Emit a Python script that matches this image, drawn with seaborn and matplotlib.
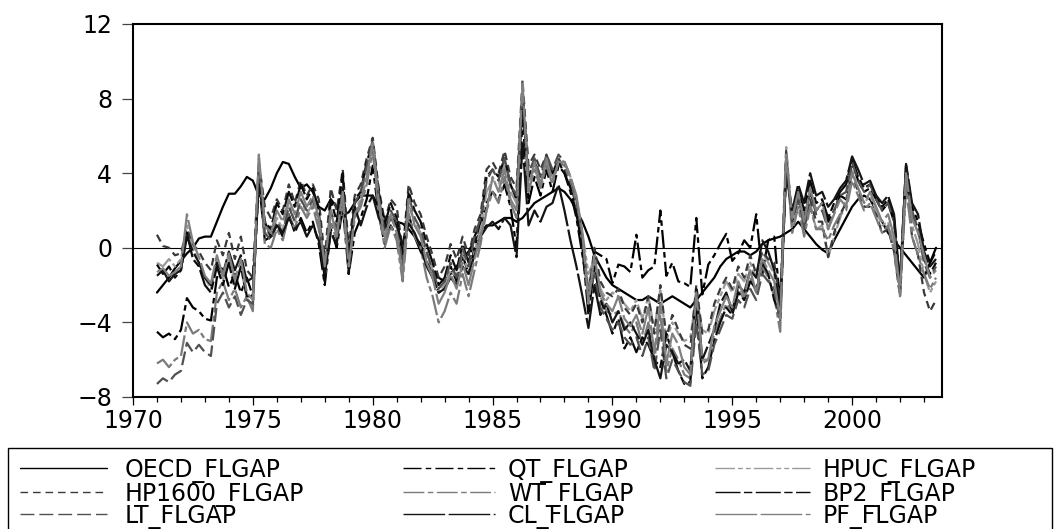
import matplotlib
matplotlib.use("Agg")
import matplotlib.pyplot as plt
from matplotlib.lines import Line2D
from matplotlib.patches import Rectangle
from matplotlib.ticker import MultipleLocator
import numpy as np
import pandas as pd
import seaborn as sns

# quarterly output gaps, 1971Q1 - 2003Q3
oecd = [
    -2.4, -2.0, -1.6, -1.1,  # 1971
    -0.7, -0.3, 0.0, 0.5,
    0.6, 0.6, 1.4, 2.2,
    2.9, 2.9, 3.3, 3.8,
    3.6, 2.8, 2.6, 3.2,  # 1975
    4.0, 4.6, 4.5, 3.8,
    3.2, 3.4, 3.0, 2.2,
    2.0, 2.6, 2.2, 1.8,
    1.9, 2.4, 2.8, 2.8,
    2.8, 2.2, 1.6, 1.6,  # 1980
    1.4, 1.3, 1.0, 0.6,
    -0.2, -0.8, -1.2, -1.6,
    -1.8, -1.4, -1.0, -0.6,
    -0.2, 0.4, 0.8, 1.2,
    1.2, 1.4, 1.6, 1.6,  # 1985
    1.4, 1.6, 2.0, 2.4,
    2.6, 2.8, 3.0, 3.2,
    3.0, 2.6, 2.0, 1.4,
    0.6, -0.4, -1.0, -1.6,
    -2.0, -2.2, -2.4, -2.6,  # 1990
    -2.8, -2.8, -2.6, -2.8,
    -3.0, -2.8, -2.6, -2.8,
    -3.0, -3.2, -2.8, -2.4,
    -2.0, -1.6, -1.0, -0.6,
    -0.4, -0.2, -0.2, -0.4,  # 1995
    -0.2, 0.2, 0.4, 0.5,
    0.6, 0.8, 1.0, 1.4,
    1.0, 0.6, 0.2, -0.1,
    -0.3, 0.4, 1.0, 1.6,
    2.2, 2.6, 2.8, 2.6,  # 2000
    2.0, 1.4, 0.8, 0.4,
    0.0, -0.4, -0.8, -1.2,
    -1.6, -0.8, 0.0,
]
qt = [
    -4.5, -4.8, -4.6, -4.9,  # 1971
    -4.4, -2.7, -3.2, -3.4,
    -3.8, -3.9, -1.6, -1.0,
    -2.1, -1.4, -2.4, -1.6,
    -2.6, 3.6, 0.4, 0.6,  # 1975
    1.2, 0.6, 1.8, 0.8,
    1.6, 0.8, 1.4, 0.2,
    -2.0, 1.0, 0.0, 2.2,
    -1.4, 0.8, 1.6, 2.6,
    4.4, 1.8, 0.2, 1.2,  # 1980
    0.6, -0.8, 1.8, 0.6,
    0.2, -0.8, -1.6, -2.4,
    -2.2, -1.0, -1.8, -0.4,
    -1.4, 0.0, 1.2, 2.4,
    3.0, 2.6, 3.4, 2.2,  # 1985
    0.0, 7.0, 2.4, 3.8,
    2.8, 4.2, 3.0, 4.4,
    4.0, 3.0, 1.6, -0.4,
    -2.4, -0.2, -0.4, -0.6,
    -1.9, -0.9, -1.0, -1.3,  # 1990
    0.7, -1.6, -1.2, -1.0,
    2.0, -1.5, -0.8, -1.8,
    -1.9, -2.1, 1.6, -2.5,
    -0.9, -0.4, 0.2, 0.75,
    -0.7, -0.3, 0.4, 0.0,  # 1995
    1.8, -1.4, 0.4, 0.6,
    -3.0, 4.4, 1.6, 2.6,
    1.6, 3.0, 2.0, 2.4,
    1.4, 2.0, 2.8, 2.6,
    4.6, 3.6, 3.0, 3.2,  # 2000
    2.6, 2.0, 2.4, 1.4,
    -1.8, 4.4, 2.2, 1.4,
    0.2, -0.8, -0.2,
]
hpuc = [
    -0.8, -1.0, -0.6, -1.0,  # 1971
    -0.6, 1.2, 0.0, -0.8,
    -1.6, -2.2, -0.6, -1.8,
    -0.6, -2.0, -1.0, -2.8,
    -3.2, 4.8, 1.0, 0.6,  # 1975
    1.6, 1.0, 2.4, 1.4,
    2.6, 1.8, 2.4, 1.2,
    -1.4, 1.8, 0.8, 2.8,
    -1.0, 2.0, 2.6, 4.2,
    5.4, 2.4, 0.6, 1.6,  # 1980
    1.0, -1.4, 2.2, 1.4,
    0.8, -0.4, -1.2, -2.4,
    -2.0, -1.2, -1.6, -0.2,
    -1.4, -0.2, 1.0, 3.0,
    3.6, 3.4, 4.4, 3.0,  # 1985
    2.4, 8.4, 3.6, 4.2,
    3.4, 4.6, 3.8, 4.8,
    4.6, 3.8, 2.6, 0.8,
    -1.4, -0.6, -2.2, -2.8,
    -2.4, -2.6, -3.0, -3.4,  # 1990
    -2.8, -3.8, -2.6, -4.4,
    -2.2, -5.0, -4.0, -4.6,
    -5.0, -4.8, -2.6, -4.4,
    -4.6, -3.4, -2.6, -1.8,
    -2.4, -1.4, -1.8, -0.8,  # 1995
    -1.6, -0.2, -0.8, -1.4,
    -3.4, 5.4, 1.2, 2.8,
    0.8, 2.4, 1.0, 1.2,
    -0.5, 0.6, 1.6, 2.6,
    4.2, 3.2, 2.4, 2.8,  # 2000
    2.0, 1.2, 1.4, 0.2,
    -2.2, 3.8, 1.2, 0.2,
    -1.4, -2.4, -1.8,
]
hp1600 = [
    0.7, 0.1, 0.0, -0.4,  # 1971
    -0.3, 1.0, 0.2, -0.2,
    -0.8, -1.2, 0.4, -0.4,
    0.8, -0.6, 0.6, -1.2,
    -1.6, 4.6, 2.2, 1.6,  # 1975
    2.6, 2.0, 3.4, 2.4,
    3.6, 2.8, 3.4, 2.6,
    -0.6, 3.2, 2.0, 4.2,
    0.0, 2.8, 3.4, 4.8,
    5.9, 3.2, 1.4, 2.6,  # 1980
    2.2, -0.2, 3.4, 2.4,
    1.8, 0.6, -0.4, -1.6,
    -1.0, 0.2, -0.6, 0.6,
    -0.4, 1.0, 1.8, 4.2,
    4.6, 4.0, 5.2, 3.8,  # 1985
    3.2, 9.0, 4.4, 5.0,
    4.2, 5.0, 4.0, 4.8,
    4.2, 3.4, 2.2, 0.4,
    -2.6, 0.0, -1.8, -2.4,
    -2.6, -2.2, -3.2, -3.6,  # 1990
    -3.0, -4.0, -2.6, -4.6,
    -2.0, -4.8, -3.6, -4.4,
    -5.2, -5.4, -2.0, -4.6,
    -4.4, -3.0, -2.2, -1.6,
    -2.2, -1.0, -1.6, -0.4,  # 1995
    -1.4, -0.2, -0.6, -0.8,
    -3.0, 5.2, 1.4, 2.6,
    1.0, 2.6, 1.4, 1.4,
    -0.5, 0.8, 1.8, 2.4,
    4.0, 3.0, 2.2, 2.2,  # 2000
    1.8, 0.8, 1.0, -0.2,
    -2.6, 3.6, 0.6, -0.4,
    -2.4, -3.4, -2.8,
]
wt = [
    -6.2, -6.0, -6.4, -6.0,  # 1971
    -5.8, -4.0, -4.6, -4.4,
    -4.9, -5.0, -2.4, -1.8,
    -2.8, -2.2, -3.2, -2.6,
    -3.4, 4.2, 0.2, 0.0,  # 1975
    1.0, 0.4, 1.8, 1.0,
    2.2, 1.6, 2.2, 1.0,
    -1.6, 1.4, 0.4, 2.4,
    -1.2, 1.6, 2.2, 3.4,
    5.2, 2.0, 0.0, 1.2,  # 1980
    0.4, -1.8, 1.8, 0.6,
    0.0, -1.6, -2.6, -4.0,
    -3.4, -2.4, -3.0, -1.4,
    -2.6, -1.2, 0.2, 2.0,
    3.0, 2.4, 3.8, 2.4,  # 1985
    1.6, 8.2, 3.0, 4.2,
    3.2, 4.4, 3.4, 4.6,
    4.4, 3.6, 2.4, 0.4,
    -2.2, -1.0, -2.6, -3.4,
    -3.6, -3.4, -4.2, -4.6,  # 1990
    -4.0, -5.2, -4.0, -6.0,
    -3.6, -6.6, -5.4, -6.0,
    -6.8, -7.0, -3.4, -6.2,
    -6.0, -4.6, -3.8, -3.0,
    -3.4, -2.2, -2.8, -1.6,  # 1995
    -2.4, -1.0, -1.6, -2.6,
    -4.5, 4.8, 0.8, 2.2,
    0.6, 2.2, 1.0, 1.0,
    0.4, 1.2, 1.8, 2.0,
    3.6, 2.8, 2.0, 2.4,  # 2000
    1.6, 0.8, 1.2, -0.2,
    -2.6, 3.2, 0.6, -0.4,
    -1.4, -2.2, -1.6,
]
bp2 = [
    -0.9, -1.4, -1.0, -1.6,  # 1971
    -1.2, 0.8, -0.6, -1.0,
    -2.0, -2.4, -1.0, -2.0,
    -0.8, -2.2, -1.0, -2.6,
    -2.6, 3.8, 1.4, 1.0,  # 1975
    2.4, 1.8, 3.0, 2.2,
    3.4, 2.6, 3.2, 2.0,
    -1.8, 2.6, 1.4, 4.0,
    -1.4, 2.6, 3.0, 4.6,
    5.6, 3.0, 1.2, 2.4,  # 1980
    1.6, -0.4, 3.0, 2.0,
    1.4, 0.2, -0.8, -2.0,
    -1.6, -0.4, -1.2, 0.2,
    -0.8, 0.6, 1.4, 3.8,
    4.2, 3.8, 4.8, 3.4,  # 1985
    2.6, 7.6, 3.8, 4.6,
    3.8, 4.8, 4.0, 4.6,
    4.0, 3.2, 1.8, 0.0,
    -3.6, -1.0, -2.8, -3.6,
    -4.6, -3.8, -5.4, -4.8,  # 1990
    -5.6, -4.8, -5.2, -6.0,
    -6.4, -4.6, -5.6, -6.6,
    -7.3, -7.2, -3.0, -7.0,
    -6.4, -5.0, -4.0, -3.2,
    -3.6, -2.4, -2.8, -1.8,  # 1995
    -2.2, -0.8, -1.4, -2.8,
    -3.6, 4.2, 1.8, 3.2,
    2.0, 3.6, 2.4, 2.6,
    1.6, 2.4, 3.0, 3.4,
    4.8, 3.8, 3.2, 3.4,  # 2000
    2.8, 2.2, 2.6, 1.6,
    -2.2, 4.2, 1.8, 1.0,
    -0.6, -1.4, -0.8,
]
lt = [
    -7.3, -7.0, -7.2, -6.8,  # 1971
    -6.6, -5.1, -5.6, -5.2,
    -5.6, -5.8, -3.0, -2.4,
    -3.2, -2.6, -3.6, -2.8,
    -3.0, 4.4, 0.8, 0.4,  # 1975
    1.4, 0.8, 2.2, 1.4,
    2.6, 2.0, 2.6, 1.6,
    -1.2, 2.0, 1.0, 3.2,
    -0.6, 2.4, 3.0, 4.4,
    5.8, 2.8, 0.8, 2.0,  # 1980
    1.4, -1.0, 2.8, 1.6,
    1.0, -0.2, -1.2, -2.2,
    -1.8, -0.8, -1.6, 0.0,
    -1.0, 0.6, 1.6, 3.6,
    4.2, 3.6, 4.8, 3.4,  # 1985
    2.8, 8.6, 4.0, 4.8,
    3.8, 5.0, 4.2, 5.0,
    4.6, 3.8, 2.6, 0.6,
    -2.6, -1.4, -3.2, -3.8,
    -4.4, -4.0, -4.8, -5.2,  # 1990
    -4.8, -5.8, -4.8, -6.6,
    -4.4, -7.0, -6.0, -6.6,
    -7.2, -7.4, -4.0, -6.8,
    -6.6, -5.2, -4.4, -3.6,
    -3.8, -2.8, -3.2, -2.2,  # 1995
    -2.8, -1.4, -1.8, -2.2,
    -4.0, 4.6, 1.4, 2.8,
    1.2, 3.0, 1.8, 2.0,
    1.0, 2.0, 2.8, 3.0,
    4.6, 3.6, 3.0, 3.4,  # 2000
    2.6, 2.0, 2.4, 1.4,
    -1.8, 4.4, 2.0, 1.0,
    -0.8, -1.6, -1.0,
]
cl = [
    -1.5, -1.2, -1.8, -1.4,  # 1971
    -1.2, 0.6, -0.2, -0.8,
    -1.6, -2.0, -0.8, -1.4,
    -0.2, -1.2, -0.4, -1.8,
    -1.6, 3.4, 1.4, 0.6,  # 1975
    1.2, 0.8, 1.6, 1.0,
    1.4, 0.6, 1.2, 0.4,
    -1.4, 0.8, 0.2, 3.2,
    -0.4, 2.2, 1.2, 2.2,
    2.8, 1.6, 1.0, 1.6,  # 1980
    1.2, 0.2, 1.3, 0.8,
    0.0, -1.0, -1.6, -2.4,
    -2.2, -1.6, -2.0, -1.0,
    -1.4, -0.4, 0.6, 1.1,
    1.4, 1.0, 1.6, 1.2,  # 1985
    -0.5, 5.6, 1.2, 2.0,
    1.4, 2.2, 2.4, 3.4,
    2.0, 0.4, -1.0, -2.6,
    -4.3, -2.0, -3.6, -3.0,
    -4.0, -3.4, -4.4, -4.0,  # 1990
    -4.6, -5.2, -4.4, -6.0,
    -7.0, -5.2, -5.6, -6.2,
    -6.0, -6.6, -2.2, -6.0,
    -5.2, -4.4, -3.0, -2.4,
    -3.4, -2.0, -2.4, -1.2,  # 1995
    -1.6, 0.4, -0.2, -1.2,
    -3.2, 4.0, 2.0, 3.4,
    2.4, 4.0, 2.8, 3.0,
    2.2, 2.6, 3.2, 3.6,
    4.9, 4.2, 3.4, 3.6,  # 2000
    2.8, 2.4, 2.8, 1.8,
    -2.0, 4.5, 2.4, 1.8,
    -0.2, -1.0, -0.6,
]
pf = [
    -1.3, -1.1, -1.5, -1.3,  # 1971
    -1.0, 1.8, 0.3, -0.5,
    -1.5, -1.9, -0.4, -1.5,
    -0.3, -1.7, -0.6, -2.4,
    -2.8, 5.0, 1.2, 0.8,  # 1975
    2.0, 1.4, 2.6, 1.8,
    3.0, 2.2, 2.8, 1.6,
    -1.0, 2.0, 0.6, 3.0,
    -1.0, 1.8, 2.4, 3.8,
    5.6, 2.6, 0.4, 1.8,  # 1980
    0.8, -1.6, 2.6, 1.2,
    0.6, -0.8, -1.6, -3.0,
    -2.4, -1.4, -2.2, -0.8,
    -2.0, -0.6, 0.6, 2.0,
    3.8, 3.0, 4.2, 2.6,  # 1985
    2.0, 8.8, 3.2, 4.6,
    3.4, 4.8, 3.6, 4.6,
    4.6, 3.8, 2.8, 0.8,
    -3.0, -0.4, -2.4, -3.0,
    -3.4, -2.6, -3.8, -4.2,  # 1990
    -3.6, -4.6, -3.2, -5.6,
    -3.0, -6.2, -4.6, -5.2,
    -6.4, -6.8, -2.4, -6.0,
    -6.0, -4.2, -3.4, -2.6,
    -3.2, -1.8, -2.6, -1.2,  # 1995
    -2.4, -0.6, -1.2, -1.8,
    -3.8, 5.0, 1.6, 3.0,
    1.4, 3.2, 2.0, 2.4,
    1.0, 1.8, 2.6, 2.2,
    4.0, 3.2, 2.4, 3.0,  # 2000
    2.2, 1.4, 1.8, 0.6,
    -2.4, 4.0, 1.6, 0.8,
    -0.4, -1.6, -1.2,
]

names = ["OECD_FLGAP", "QT_FLGAP", "HPUC_FLGAP", "HP1600_FLGAP", "WT_FLGAP",
         "BP2_FLGAP", "LT_FLGAP", "CL_FLGAP", "PF_FLGAP"]
values = [oecd, qt, hpuc, hp1600, wt, bp2, lt, cl, pf]
dates = 1971 + np.arange(len(oecd)) * 0.25

df = pd.DataFrame(dict(zip(names, values)), index=dates)
df.index.name = "date"
df_long = df.reset_index().melt(id_vars="date", var_name="series", value_name="gap")

colors = {
    "OECD_FLGAP": "#000000", "QT_FLGAP": "#000000", "HPUC_FLGAP": "#9a9a9a",
    "HP1600_FLGAP": "#3a3a3a", "WT_FLGAP": "#7a7a7a", "BP2_FLGAP": "#0a0a0a",
    "LT_FLGAP": "#505050", "CL_FLGAP": "#141414", "PF_FLGAP": "#808080",
}
# dash patterns in points (unscaled)
dashes = {
    "OECD_FLGAP": "", "QT_FLGAP": (13, 3, 4, 3), "HPUC_FLGAP": (14, 2.2, 3.5, 2.2, 3.5, 2.2),
    "HP1600_FLGAP": (5.5, 3.5), "WT_FLGAP": (15, 2.5, 4, 2.5), "BP2_FLGAP": (18, 2.5, 6, 2.5),
    "LT_FLGAP": (10, 3.6), "CL_FLGAP": (30, 2.5), "PF_FLGAP": (30, 2.5),
}

sns.set_theme(style="white")
plt.rcParams["font.family"] = ["DejaVu Sans"]
plt.rcParams["lines.scale_dashes"] = False

W, H = 1058, 529
fig = plt.figure(figsize=(W / 100, H / 100), dpi=100)
ax = fig.add_axes([133 / W, 1 - 397 / H, (942 - 133) / W, (397 - 24) / H])

ax.axhline(0, color="black", lw=0.8, zorder=1)
sns.lineplot(data=df_long, x="date", y="gap", hue="series", style="series",
             hue_order=names, style_order=names, palette=colors, dashes=dashes,
             linewidth=1.6, estimator=None, legend=False, ax=ax, zorder=2)

ax.set_xlim(1970, 2003.75)
ax.set_ylim(-8, 12)
ax.set_yticks([-8, -4, 0, 4, 8, 12])
ax.set_xticks(range(1970, 2001, 5))
ax.xaxis.set_minor_locator(MultipleLocator(1))
ax.set_xlabel("")
ax.set_ylabel("")
for s in ax.spines.values():
    s.set_color("black")
    s.set_linewidth(1.5)
ax.tick_params(axis="y", which="major", direction="out", length=8, width=0.9,
               color="#444444", pad=7, labelsize=17, labelcolor="black", left=True)
ax.tick_params(axis="x", which="major", direction="out", length=6, width=0.9,
               color="black", pad=3, labelsize=17, labelcolor="black", bottom=True)
ax.tick_params(axis="x", which="minor", direction="out", length=3.6, width=0.9,
               color="black", bottom=True)

# legend box below the plot
fig.add_artist(Rectangle((8 / W, -0.05), 1044 / W, (H - 448) / H + 0.05,
                         transform=fig.transFigure, fill=False, ec="black", lw=1.0))
layout = [["OECD_FLGAP", "QT_FLGAP", "HPUC_FLGAP"],
          ["HP1600_FLGAP", "WT_FLGAP", "BP2_FLGAP"],
          ["LT_FLGAP", "CL_FLGAP", "PF_FLGAP"]]
rows_y = [468, 492, 514]
cols_x = [(20, 107, 125), (403, 495, 508), (715, 810, 823)]
for r, row in enumerate(layout):
    for c, name in enumerate(row):
        x0, x1, xt = cols_x[c]
        y = 1 - rows_y[r] / H
        fig.add_artist(Line2D([x0 / W, x1 / W], [y, y], transform=fig.transFigure,
                              color=colors[name], lw=1.0, dashes=dashes[name]))
        fig.text(xt / W, y, name, fontsize=17, va="center_baseline", ha="left", color="black")

fig.savefig("out.png", dpi=100)
